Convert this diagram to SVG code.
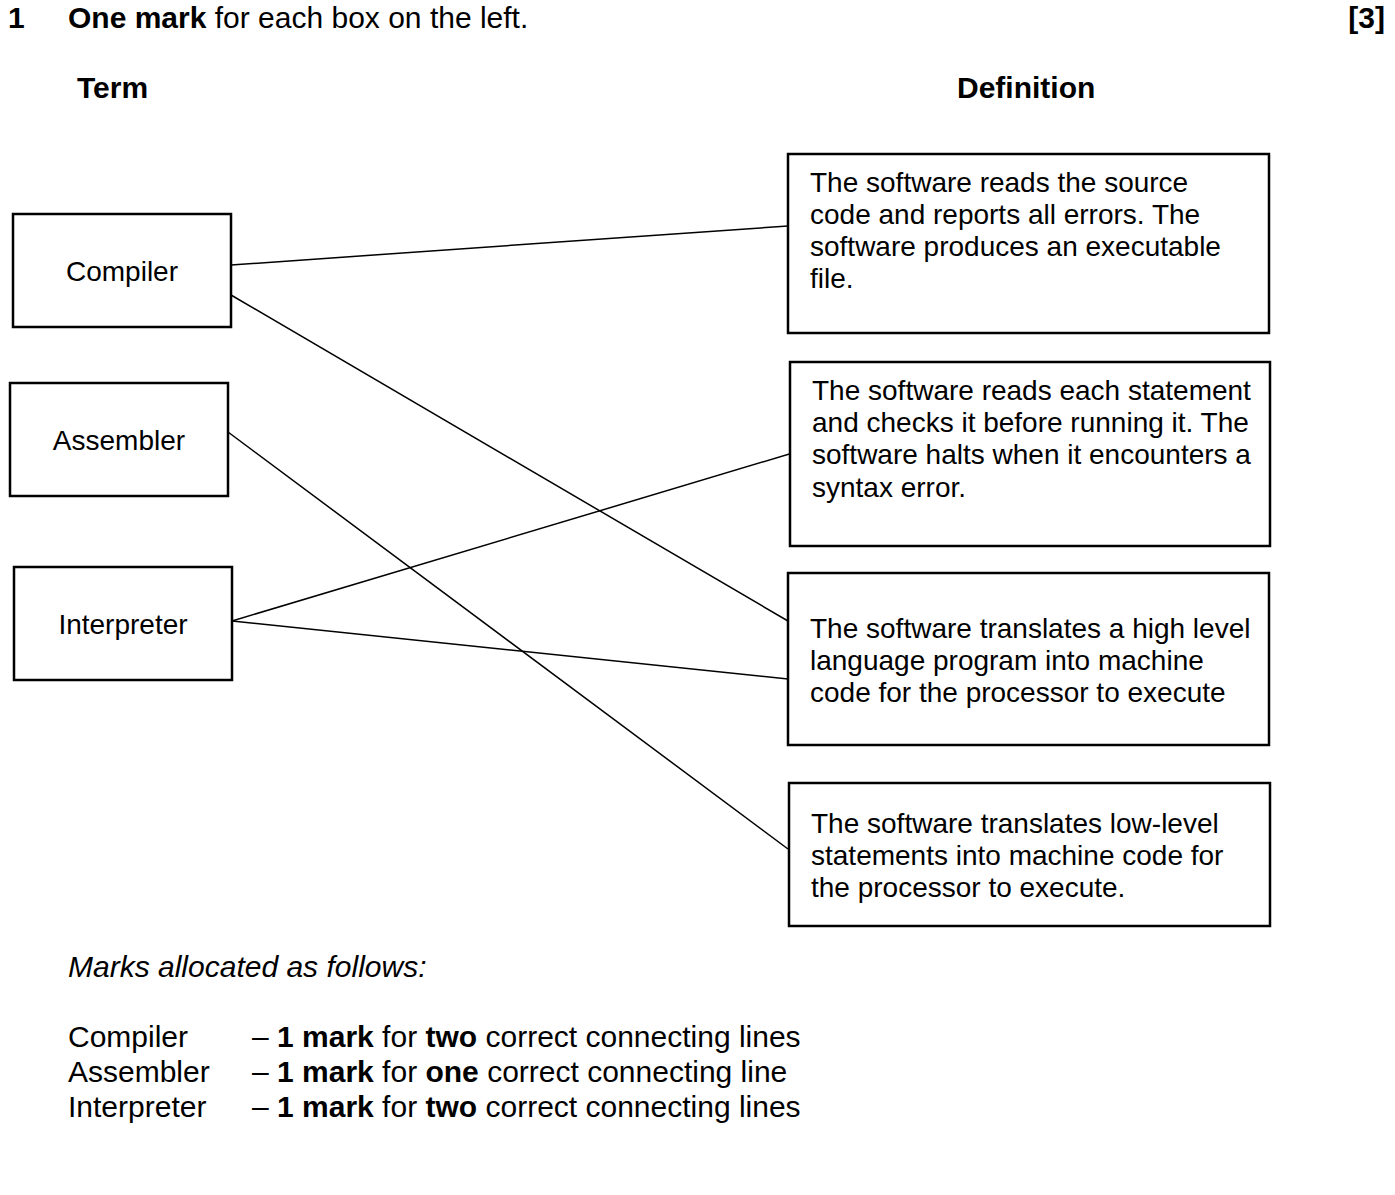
<svg xmlns="http://www.w3.org/2000/svg" width="1395" height="1195" viewBox="0 0 1395 1195">
<style>
text{font-family:"Liberation Sans",Arial,sans-serif;font-size:28px;fill:#000}
.big{font-size:30px}
.b{font-weight:bold}
.i{font-style:italic}
.box{fill:#fff;stroke:#000;stroke-width:2.5}
line{stroke:#000;stroke-width:1.5}
</style>
<rect width="1395" height="1195" fill="#fff"/>
<text x="8" y="28" class="b big">1</text>
<text x="68" y="28" class="big"><tspan class="b">One mark</tspan> for each box on the left.</text>
<text x="1385" y="28" class="b big" text-anchor="end">[3]</text>
<text x="77" y="98" class="b big">Term</text>
<text x="957" y="98" class="b big">Definition</text>
<g id="connectors">
<line x1="231" y1="265" x2="788" y2="226"/>
<line x1="231" y1="295" x2="788" y2="621"/>
<line x1="228" y1="432" x2="788" y2="849"/>
<line x1="232" y1="621" x2="796" y2="452"/>
<line x1="232" y1="621" x2="788" y2="679"/>
</g>
<g id="compiler"><rect class="box" x="13" y="214" width="218" height="113"/><text x="122" y="281" text-anchor="middle">Compiler</text></g>
<g id="assembler"><rect class="box" x="10" y="383" width="218" height="113"/><text x="119" y="450" text-anchor="middle">Assembler</text></g>
<g id="interpreter"><rect class="box" x="14" y="567" width="218" height="113"/><text x="123" y="634" text-anchor="middle">Interpreter</text></g>
<g id="def1"><rect class="box" x="788" y="154" width="481" height="179"/>
<text x="810" y="192">The software reads the source</text>
<text x="810" y="224">code and reports all errors. The</text>
<text x="810" y="256">software produces an executable</text>
<text x="810" y="288">file.</text></g>
<g id="def2"><rect class="box" x="790" y="362" width="480" height="184"/>
<text x="812" y="400">The software reads each statement</text>
<text x="812" y="432">and checks it before running it. The</text>
<text x="812" y="464">software halts when it encounters a</text>
<text x="812" y="497">syntax error.</text></g>
<g id="def3"><rect class="box" x="788" y="573" width="481" height="172"/>
<text x="810" y="638">The software translates a high level</text>
<text x="810" y="670">language program into machine</text>
<text x="810" y="702">code for the processor to execute</text></g>
<g id="def4"><rect class="box" x="789" y="783" width="481" height="143"/>
<text x="811" y="833">The software translates low-level</text>
<text x="811" y="865">statements into machine code for</text>
<text x="811" y="897">the processor to execute.</text></g>
<text x="68" y="977" class="i big">Marks allocated as follows:</text>
<text x="68" y="1047" class="big">Compiler</text>
<text x="68" y="1082" class="big">Assembler</text>
<text x="68" y="1117" class="big">Interpreter</text>
<text x="252" y="1047" class="big">– <tspan class="b">1 mark</tspan> for <tspan class="b">two</tspan> correct connecting lines</text>
<text x="252" y="1082" class="big">– <tspan class="b">1 mark</tspan> for <tspan class="b">one</tspan> correct connecting line</text>
<text x="252" y="1117" class="big">– <tspan class="b">1 mark</tspan> for <tspan class="b">two</tspan> correct connecting lines</text>
</svg>
